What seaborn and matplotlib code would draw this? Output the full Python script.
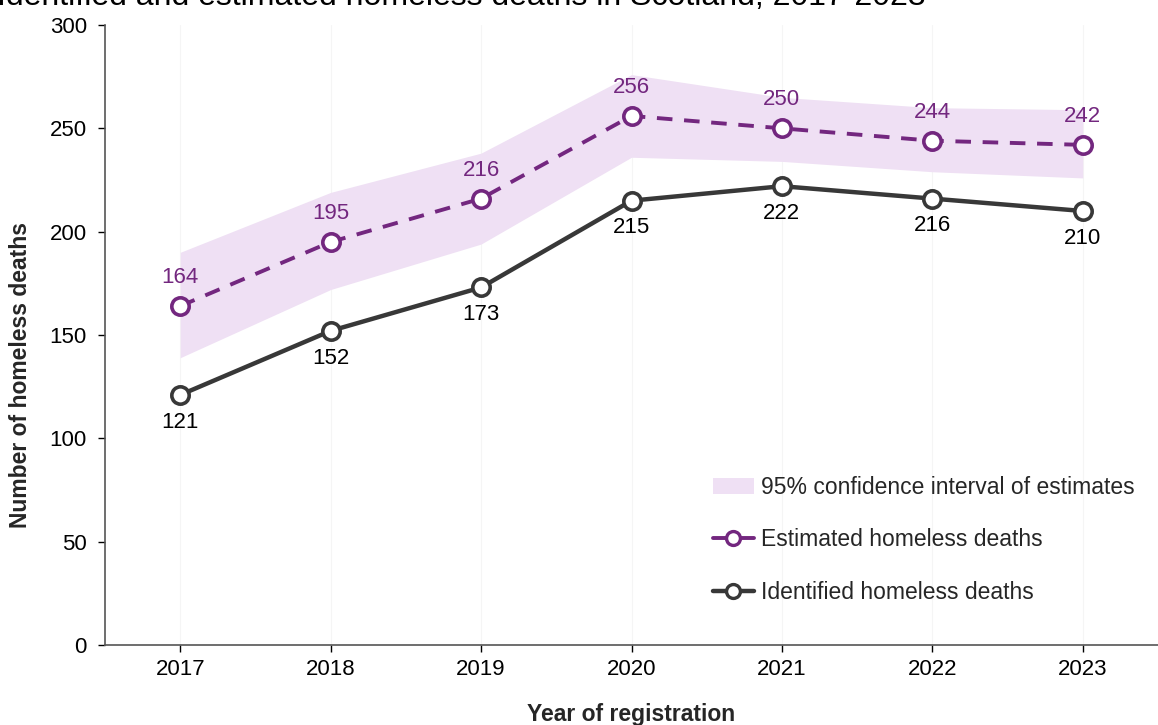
import matplotlib
matplotlib.use("Agg")
import matplotlib.pyplot as plt
import seaborn as sns
import pandas as pd
from matplotlib.lines import Line2D
from matplotlib.patches import Patch

years = ["2017", "2018", "2019", "2020", "2021", "2022", "2023"]
estimated = [164, 195, 216, 256, 250, 244, 242]
identified = [121, 152, 173, 215, 222, 216, 210]
ci_lower = [139, 172, 194, 236, 234, 229, 226]
ci_upper = [190, 219, 238, 276, 265, 260, 259]

PURPLE = "#73277F"
DARK = "#383838"
FILL = "#EFE0F4"

sns.set_theme(style="white")
plt.rcParams['font.family'] = ['Liberation Sans', 'DejaVu Sans']

df = pd.DataFrame({
    "year": years * 2,
    "x": list(range(len(years))) * 2,
    "deaths": estimated + identified,
    "series": ["Estimated homeless deaths"] * len(years) + ["Identified homeless deaths"] * len(years),
})

fig = plt.figure(figsize=(11.58, 7.25), dpi=100)
ax = fig.add_axes([105/1158, 80/725, 1 - 105/1158, 620/725])

xs = list(range(len(years)))
for xv in xs:
    ax.axvline(xv, color="#f5f5f5", lw=0.8, zorder=0)

ax.fill_between(xs, ci_lower, ci_upper, color=FILL, lw=0, zorder=1)

sns.lineplot(data=df[df.series.str.startswith("Estimated")], x="x", y="deaths", ax=ax,
             color=PURPLE, lw=2.8, linestyle=(0, (4, 3)), marker="o", markersize=12.5,
             markerfacecolor="white", markeredgecolor=PURPLE, markeredgewidth=2.6,
             legend=False, zorder=3)
sns.lineplot(data=df[df.series.str.startswith("Identified")], x="x", y="deaths", ax=ax,
             color=DARK, lw=3.2, marker="o", markersize=12.5,
             markerfacecolor="white", markeredgecolor=DARK, markeredgewidth=2.6,
             legend=False, zorder=3)

for xv, v in zip(xs, estimated):
    ax.annotate(str(v), (xv, v), xytext=(0, 13), textcoords="offset points",
                ha="center", va="bottom", fontsize=16, color=PURPLE)
for xv, v in zip(xs, identified):
    ax.annotate(str(v), (xv, v), xytext=(0, -12), textcoords="offset points",
                ha="center", va="top", fontsize=16, color="black")

ax.set_xlim(-0.5, 6.5)
ax.set_ylim(0, 300)
ax.set_yticks(range(0, 301, 50))
ax.set_xticks(xs)
ax.set_xticklabels(years)
ax.tick_params(axis="both", labelsize=16, colors="black", length=5, width=1,
               direction="out", left=True, bottom=True, pad=8)
ax.tick_params(axis="x", pad=5)
for s in ["top", "right"]:
    ax.spines[s].set_visible(False)
for s in ["left", "bottom"]:
    ax.spines[s].set_color("#555555")
    ax.spines[s].set_linewidth(1.2)

ax.set_xlabel("Year of registration", fontsize=16.5, fontweight="bold", labelpad=17)
ax.set_ylabel("Number of homeless deaths", fontsize=16.5, fontweight="bold")
ax.yaxis.set_label_coords(-73/1053, 0.435)

handles = [
    Patch(facecolor=FILL, edgecolor="none", label="95% confidence interval of estimates"),
    Line2D([0], [0], color=PURPLE, lw=2.8, marker="o", markersize=10, markerfacecolor="white",
           markeredgecolor=PURPLE, markeredgewidth=2.4, label="Estimated homeless deaths"),
    Line2D([0], [0], color=DARK, lw=3.2, marker="o", markersize=10, markerfacecolor="white",
           markeredgecolor=DARK, markeredgewidth=2.4, label="Identified homeless deaths"),
]
leg = ax.legend(handles=handles, loc="lower right", bbox_to_anchor=(0.993, 0.04), frameon=False,
                fontsize=16.5, labelspacing=1.3, handlelength=1.8, handletextpad=0.3,
                borderaxespad=0.3)

fig.text(-0.003, 1 - 5/725, "Identified and estimated homeless deaths in Scotland, 2017-2023",
         ha="left", va="baseline", fontsize=23, color="black")

fig.savefig("out.png", dpi=100)
